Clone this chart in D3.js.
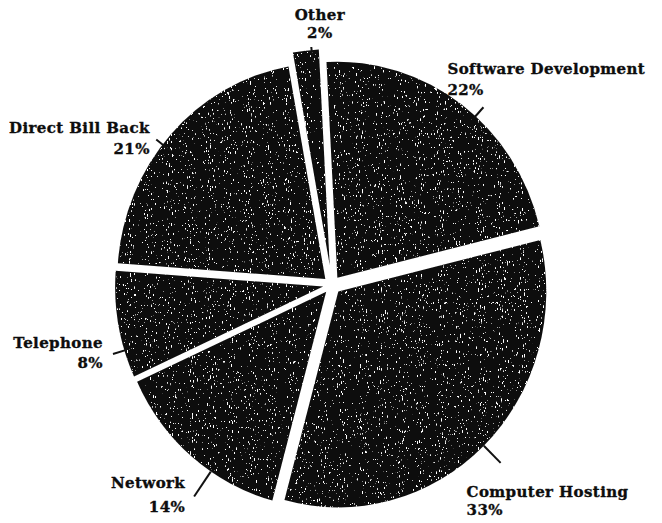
<!DOCTYPE html>
<html>
<head>
<meta charset="utf-8">
<script src="https://cdn.jsdelivr.net/npm/d3@7"></script>
<style>
  html, body { margin: 0; padding: 0; background: #ffffff; }
  svg { display: block; }
  .lbl { font-family: "DejaVu Serif", "Liberation Serif", serif; font-weight: bold; font-size: 15px; letter-spacing: 0.4px; fill: #0d0d0d; stroke: #0d0d0d; stroke-width: 0.35px; }
</style>
</head>
<body>
<svg id="chart" width="662" height="523"></svg>
<script>
// Budget categories, clockwise from 12 o'clock
const categories = ["Software Development", "Computer Hosting", "Network", "Telephone", "Direct Bill Back", "Other"];
const shares = [22, 33, 14, 8, 21, 2];
const shareLabels = ["22%", "33%", "14%", "8%", "21%", "2%"];

// Layout
const cx = 332, cy = 285, RX = 208, RY = 216;
const deg = Math.PI / 180;
const explode = [9, 9, 9, 9, 9, 20];               // outward shift per wedge
const leaderShift = [5, 0, -6.5, -7, -3.5, 1.6];    // degrees from bisector where the leader meets the rim
const leaderSpan = [[-4, 12], [0, 24], [0, 30], [-2, 12], [-12, 8], [-12, 3]]; // inside / outside the rim
// label placement relative to the outer end of each leader: [dx, dy, anchor, lineGap]
const labelPlace = [
  [-36, -33, "start", 21],
  [-34, 34, "start", 18],
  [-9, -8.6, "end", 24],
  [-10, -6, "end", 20],
  [-6.5, -7, "end", 21],
  [8.5, -27, "middle", 18]
];

const svg = d3.select("#chart");

// grain texture: sparse white specks with short vertical streaks over a near-black fill
const defs = svg.append("defs");
const f = defs.append("filter").attr("id", "grain")
  .attr("x", "0").attr("y", "0").attr("width", "1").attr("height", "1");
f.append("feTurbulence").attr("type", "fractalNoise")
  .attr("baseFrequency", "0.95 0.3").attr("numOctaves", 2).attr("seed", 7).attr("result", "noise");
f.append("feColorMatrix").attr("in", "noise").attr("type", "matrix")
  .attr("values", "0 0 0 0 1  0 0 0 0 1  0 0 0 0 1  20 0 0 0 -13.6").attr("result", "specks");
f.append("feComposite").attr("in", "specks").attr("in2", "SourceGraphic").attr("operator", "in").attr("result", "clipped");
const m = f.append("feMerge");
m.append("feMergeNode").attr("in", "SourceGraphic");
m.append("feMergeNode").attr("in", "clipped");

const pie = d3.pie().sort(null).value(d => d)
  .startAngle(-3 * deg).endAngle(357 * deg);
const arcs = pie(shares);
const arc = d3.arc().innerRadius(0).outerRadius(RX);

const g = svg.append("g").attr("transform", `translate(${cx},${cy})`);
const rim = (t, extra) => [Math.sin(t) * (RX + extra), -Math.cos(t) * (RY + extra)];

arcs.forEach((a, i) => {
  const mid = (a.startAngle + a.endAngle) / 2;
  const ox = Math.sin(mid) * explode[i], oy = -Math.cos(mid) * explode[i];
  const wg = g.append("g").attr("transform", `translate(${ox},${oy})`);
  wg.append("path").attr("d", arc(a))
    .attr("transform", `scale(1,${RY / RX})`)
    .attr("fill", "#111111").attr("filter", "url(#grain)");

  // leader line
  const la = mid + leaderShift[i] * deg;
  const p0 = rim(la, leaderSpan[i][0]);
  const p1 = rim(la, leaderSpan[i][1]);
  wg.append("line").attr("x1", p0[0]).attr("y1", p0[1]).attr("x2", p1[0]).attr("y2", p1[1])
    .attr("stroke", "#111").attr("stroke-width", 2);

  const [dx, dy, anchor, gap] = labelPlace[i];
  const t = wg.append("text").attr("class", "lbl").attr("text-anchor", anchor);
  t.append("tspan").attr("x", p1[0] + dx).attr("y", p1[1] + dy).text(categories[i]);
  t.append("tspan").attr("x", p1[0] + dx).attr("y", p1[1] + dy + gap).text(shareLabels[i]);
});
</script>
</body>
</html>
